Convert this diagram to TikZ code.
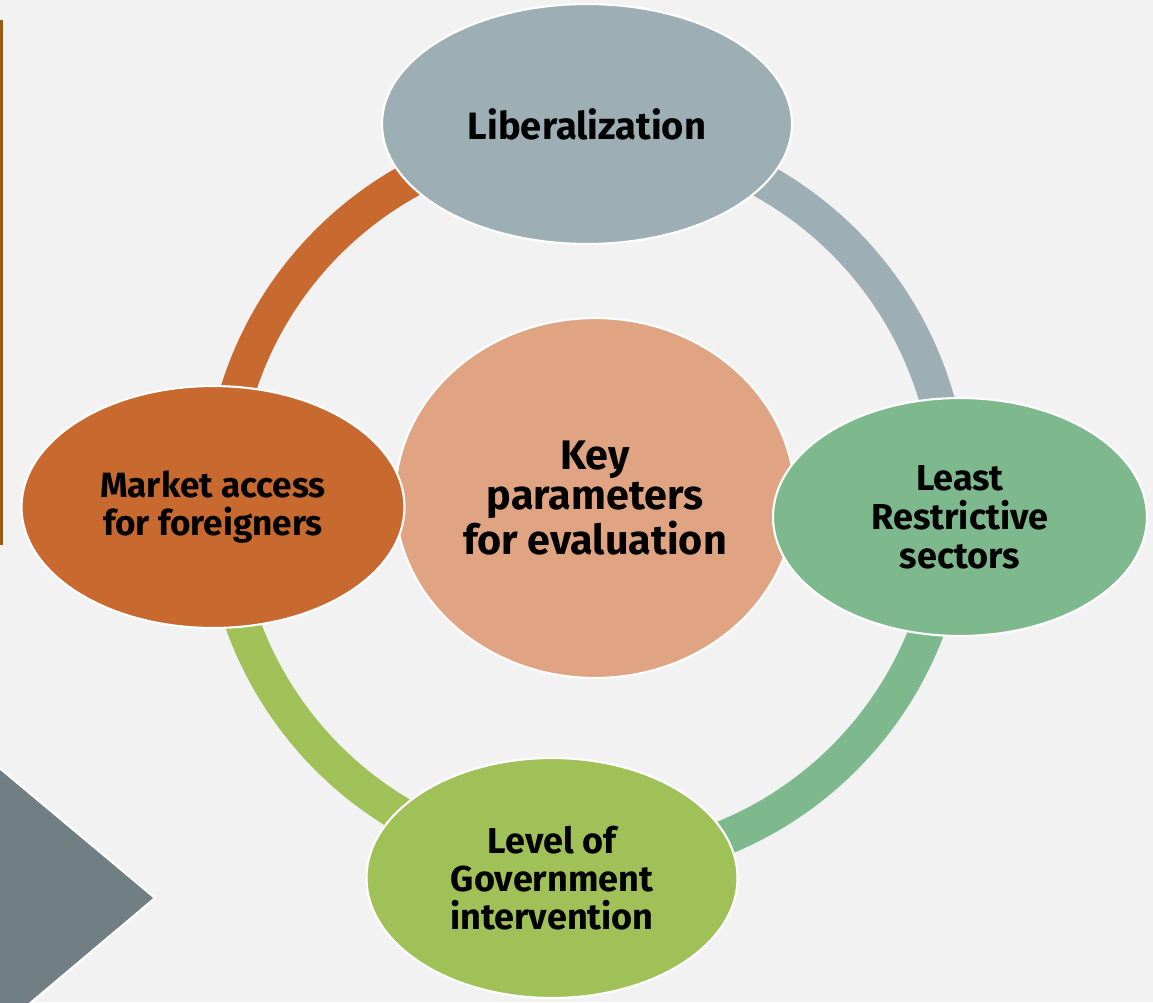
\documentclass[tikz,border=0pt]{standalone}
\usepackage{fontspec}
\setmainfont{Fira Sans}
\usepackage{tikz}
\usetikzlibrary{shapes.geometric}

\definecolor{pagegray}{HTML}{F2F2F2}
\definecolor{libgray}{HTML}{9DAFB5}
\definecolor{leastgreen}{HTML}{7DB98D}
\definecolor{govolive}{HTML}{A0C058}
\definecolor{marketrust}{HTML}{C8692F}
\definecolor{keypeach}{HTML}{E0A482}
\definecolor{slategray}{HTML}{717F84}
\definecolor{barbrown}{HTML}{9A5C12}

\begin{document}
\begin{tikzpicture}[x=0.02cm, y=0.02cm,
  bubble/.style={ellipse, draw=white, line width=1.2pt, inner sep=0pt, align=center},
  ringarc/.style={line width=0.7cm}]

  % page
  \fill[pagegray] (0,0) rectangle (1153,-1002);
  \useasboundingbox (0,0) rectangle (1153,-1002);

  % slide decorations on the left
  \draw[barbrown, line width=0.06cm] (1.5,-20) -- (1.5,-545);
  \filldraw[fill=slategray, draw=white, line width=1.2pt] (-10,-760) -- (155,-898) -- (-10,-1037) -- cycle;

  % Cycle ring, drawn under the bubbles
  \coordinate (ring) at (586,-500);
  \draw[ringarc, libgray] (ring) ++(5:7.3cm) arc[start angle=5, end angle=85, radius=7.3cm];
  \draw[ringarc, marketrust] (ring) ++(95:7.3cm) arc[start angle=95, end angle=175, radius=7.3cm];
  \draw[ringarc, govolive] (ring) ++(185:7.3cm) arc[start angle=185, end angle=265, radius=7.3cm];
  \draw[ringarc, leastgreen] (ring) ++(275:7.3cm) arc[start angle=275, end angle=355, radius=7.3cm];

  % Centre
  \node[bubble, fill=keypeach, minimum width=8cm, minimum height=7.2cm,
        font=\bfseries\fontsize{23.5}{23}\selectfont] (key) at (595,-498) {Key\\parameters\\for evaluation};

  % Outer bubbles
  \node[bubble, fill=libgray, minimum width=8.2cm, minimum height=4.8cm,
        font=\bfseries\fontsize{21.7}{23}\selectfont] (liberal) at (587,-124) {Liberalization};
  \node[bubble, fill=leastgreen, minimum width=7.48cm, minimum height=4.76cm,
        font=\bfseries\fontsize{20.5}{22.2}\selectfont] (least) at (960,-517) {Least\\Restrictive\\sectors};
  \node[bubble, fill=govolive, minimum width=7.42cm, minimum height=4.8cm,
        font=\bfseries\fontsize{20.5}{21.6}\selectfont] (gov) at (552,-878) {Level of\\Government\\intervention};
  \node[bubble, fill=marketrust, minimum width=7.66cm, minimum height=4.84cm,
        font=\bfseries\fontsize{20}{21.6}\selectfont] (market) at (213,-507) {Market access\\for foreigners};

\end{tikzpicture}
\end{document}
